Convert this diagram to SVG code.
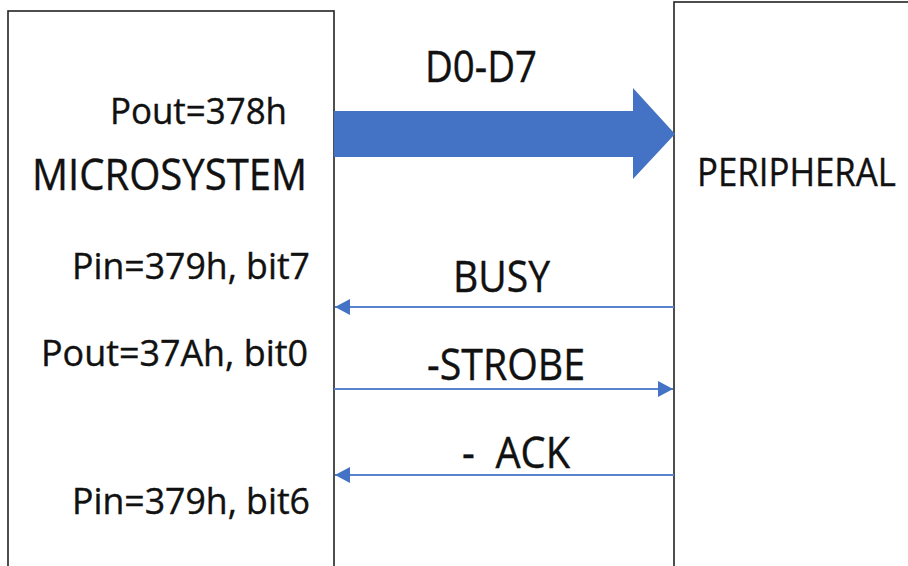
<svg xmlns="http://www.w3.org/2000/svg" width="908" height="566" viewBox="0 0 908 566">
<style>
.box{fill:#fff;stroke:#222;stroke-width:1.6}
.t{font-family:"Open Sans","Noto Sans","Liberation Sans",sans-serif;fill:#111;stroke:#111;stroke-width:0.4}
.sig{stroke:#5b82cc;stroke-width:2;fill:none}
</style>
<defs>
<marker id="ah" viewBox="0 0 15 16" refX="15" refY="8" markerWidth="15" markerHeight="16" markerUnits="userSpaceOnUse" orient="auto">
<path d="M0,0 L15,8 L0,16 Z" fill="#4472C4"/>
</marker>
</defs>
<rect width="908" height="566" fill="#fff"/>
<g id="microsystem">
<rect class="box" x="8" y="11" width="326" height="570"/>
<text class="t" x="110" y="124" font-size="37" textLength="177" lengthAdjust="spacingAndGlyphs">Pout=378h</text>
<text class="t" x="32" y="190" font-size="43" textLength="275" lengthAdjust="spacingAndGlyphs">MICROSYSTEM</text>
<text class="t" x="72" y="279" font-size="37" textLength="238" lengthAdjust="spacingAndGlyphs">Pin=379h, bit7</text>
<text class="t" x="41" y="366" font-size="37" textLength="267" lengthAdjust="spacingAndGlyphs">Pout=37Ah, bit0</text>
<text class="t" x="72" y="514" font-size="37" textLength="238" lengthAdjust="spacingAndGlyphs">Pin=379h, bit6</text>
</g>
<g id="peripheral">
<rect class="box" x="674" y="2" width="250" height="580"/>
<text class="t" x="697" y="186" font-size="39" textLength="199" lengthAdjust="spacingAndGlyphs">PERIPHERAL</text>
</g>
<g id="connectors">
<polygon points="334,111 633,111 633,88 675,134 633,179 633,157 334,157" fill="#4472C4"/>
<text class="t" x="425" y="82" font-size="43" textLength="112" lengthAdjust="spacingAndGlyphs">D0-D7</text>
<line class="sig" x1="674" y1="307" x2="335" y2="307" marker-end="url(#ah)"/>
<text class="t" x="453" y="292" font-size="43" textLength="97" lengthAdjust="spacingAndGlyphs">BUSY</text>
<line class="sig" x1="334" y1="389" x2="673" y2="389" marker-end="url(#ah)"/>
<text class="t" x="427" y="380" font-size="43" textLength="158" lengthAdjust="spacingAndGlyphs">-STROBE</text>
<line class="sig" x1="674" y1="475" x2="335" y2="475" marker-end="url(#ah)"/>
<text class="t" x="462" y="468" font-size="43" xml:space="preserve" textLength="108" lengthAdjust="spacingAndGlyphs">-  ACK</text>
</g>
</svg>
